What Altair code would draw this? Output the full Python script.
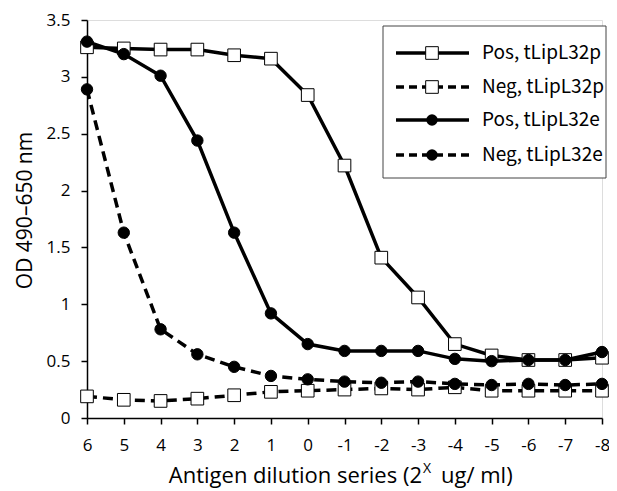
import altair as alt
import pandas as pd

# ---- data ----
dilution = [6, 5, 4, 3, 2, 1, 0, -1, -2, -3, -4, -5, -6, -7, -8]
pos_p = [3.26, 3.25, 3.24, 3.24, 3.19, 3.16, 2.84, 2.22, 1.41, 1.06, 0.65, 0.55, 0.51, 0.51, 0.53]
neg_p = [0.19, 0.16, 0.15, 0.17, 0.20, 0.23, 0.24, 0.25, 0.26, 0.25, 0.27, 0.24, 0.24, 0.24, 0.24]
pos_e = [3.31, 3.20, 3.01, 2.44, 1.63, 0.92, 0.65, 0.59, 0.59, 0.59, 0.52, 0.50, 0.51, 0.51, 0.58]
neg_e = [2.89, 1.63, 0.78, 0.56, 0.45, 0.37, 0.34, 0.32, 0.31, 0.32, 0.30, 0.29, 0.30, 0.29, 0.30]

series_names = ["Pos, tLipL32p", "Neg, tLipL32p", "Pos, tLipL32e", "Neg, tLipL32e"]
series_values = [pos_p, neg_p, pos_e, neg_e]
series_dashed = [False, True, False, True]
series_marker = ["square", "square", "circle", "circle"]

y_ticks = [0, 0.5, 1, 1.5, 2, 2.5, 3, 3.5]

W, H = 515, 398
DASH = [10, 6]
TICK_FONT = "Open Sans"
TITLE_FONT = "Open Sans"
LEG_FONT = "Noto Sans CJK JP"

x_scale = alt.Scale(domain=[6, -8], nice=False, zero=False)
y_scale = alt.Scale(domain=[0, 3.5], nice=False)

axis_common = dict(
    domainColor="black", domainWidth=1.5, tickColor="black", tickWidth=1.5,
    tickSize=6, grid=False, labelColor="black", labelFont=TICK_FONT,
    labelFontSize=17, labelOverlap=False, labelFlush=False,
)
x_axis = alt.Axis(values=dilution, labelExpr="'' + datum.value",
                  title=None, labelPadding=13, tickCount=15, **axis_common)
y_axis = alt.Axis(values=y_ticks, format=".1~f",
                  title="OD 490–650 nm", titleFont=TITLE_FONT,
                  titleFontSize=21, titleFontWeight="normal",
                  titleColor="black", titleX=-62, titleY=190,
                  titleAngle=270, titleAlign="center",
                  titleBaseline="middle", labelPadding=11, **axis_common)
xenc = alt.X("x:Q", scale=x_scale, axis=x_axis)
yenc = alt.Y("y:Q", scale=y_scale, axis=y_axis)

layers = []
for name, vals, dashed, marker in zip(series_names, series_values,
                                      series_dashed, series_marker):
    df = pd.DataFrame({"x": dilution, "y": vals, "series": name})
    base = alt.Chart(df)
    line_kwargs = dict(color="black", strokeWidth=3.5)
    if dashed:
        line_kwargs["strokeDash"] = DASH
    layers.append(base.mark_line(**line_kwargs).encode(x=xenc, y=yenc))
    if marker == "square":
        pt = base.mark_point(shape="square", size=160, filled=True,
                             fill="white", stroke="black", strokeWidth=1,
                             opacity=1)
    else:
        pt = base.mark_point(shape="circle", size=130, filled=True,
                             fill="black", stroke="black", strokeWidth=1,
                             opacity=1)
    layers.append(pt.encode(x=xenc, y=yenc))

# ---- manual legend ----
one = pd.DataFrame({"a": [0]})
LX0, LX1, LY0, LY1 = 296, 519, 6, 158
layers.append(alt.Chart(one).mark_rect(fill="white", stroke="#444",
                                       strokeWidth=1).encode(
    x=alt.value(LX0), x2=alt.value(LX1), y=alt.value(LY0), y2=alt.value(LY1)))
row_y = [33, 67, 100, 135]
for i, (name, dashed, marker) in enumerate(
        zip(series_names, series_dashed, series_marker)):
    yy = row_y[i]
    rk = dict(color="black", strokeWidth=3.5)
    if dashed:
        rk["strokeDash"] = [8, 5]
    layers.append(alt.Chart(one).mark_rule(**rk).encode(
        x=alt.value(309), x2=alt.value(382), y=alt.value(yy)))
    if marker == "square":
        pm = alt.Chart(one).mark_point(shape="square", size=160, filled=True,
                                       fill="white", stroke="black",
                                       strokeWidth=1, opacity=1)
    else:
        pm = alt.Chart(one).mark_point(shape="circle", size=130, filled=True,
                                       fill="black", opacity=1)
    layers.append(pm.encode(x=alt.value(345), y=alt.value(yy)))
    layers.append(alt.Chart(one).mark_text(
        text=name, font=LEG_FONT, fontSize=19, align="left",
        baseline="middle", color="black").encode(
        x=alt.value(395), y=alt.value(yy)))

# ---- x axis title with superscript ----
X0 = 335
layers.append(alt.Chart(one).mark_text(
    text="Antigen dilution series (2", font=TITLE_FONT, fontSize=22,
    align="right", baseline="alphabetic", color="black").encode(
    x=alt.value(X0), y=alt.value(463)))
layers.append(alt.Chart(one).mark_text(
    text="X", font=TITLE_FONT, fontSize=14, align="left",
    baseline="alphabetic", color="black").encode(
    x=alt.value(X0 + 1), y=alt.value(453)))
layers.append(alt.Chart(one).mark_text(
    text="ug/ ml)", font=TITLE_FONT, fontSize=22, align="left",
    baseline="alphabetic", color="black").encode(
    x=alt.value(X0 + 19), y=alt.value(463)))

chart = alt.layer(*layers).properties(
    width=W, height=H,
    autosize=alt.AutoSizeParams(type="none"),
    padding={"left": 79, "top": 12, "right": 7, "bottom": 80},
).configure_view(stroke=None).configure(background="white")

chart.save("out.html", embed_options={"renderer": "svg", "actions": False})
